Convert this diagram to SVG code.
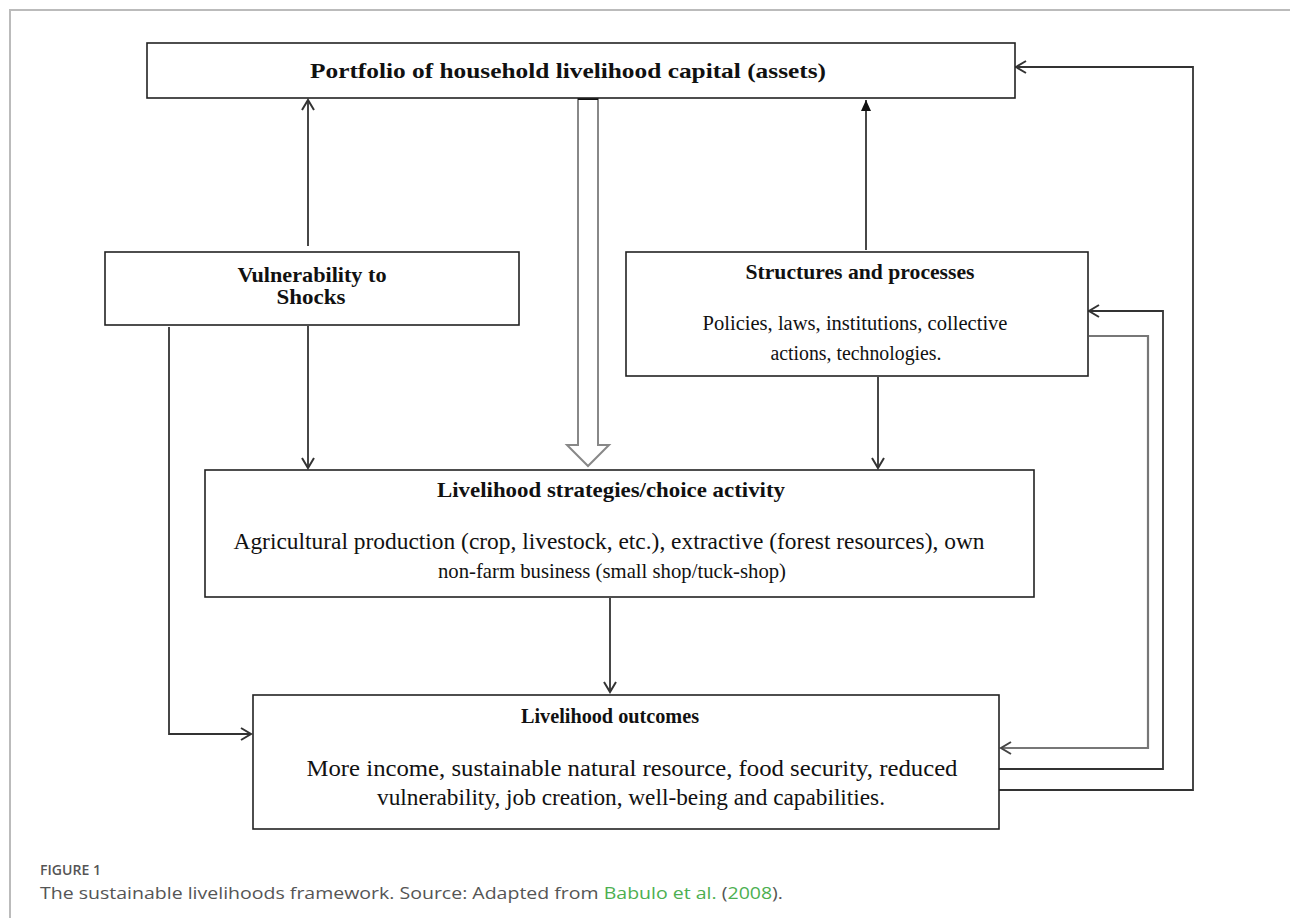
<svg xmlns="http://www.w3.org/2000/svg" width="1290" height="918" viewBox="0 0 1290 918">
<style>
.box{fill:#fff;stroke:#222;stroke-width:1.6}
.t{font-family:"Liberation Serif","Times New Roman",serif;fill:#111;text-anchor:middle}
.b{font-weight:bold;font-size:21px}
.n{font-size:22px}
.c{fill:none;stroke:#333;stroke-width:1.8}
.g{fill:none;stroke:#777;stroke-width:2.2}
.cap{font-family:"Open Sans",Lato,sans-serif;fill:#555}
</style>
<defs>
<marker id="open" markerUnits="userSpaceOnUse" markerWidth="16" markerHeight="16" refX="12" refY="8" orient="auto">
<path d="M2,2 L12,8 L2,14" fill="none" stroke="#333" stroke-width="2"/>
</marker>
<marker id="openg" markerUnits="userSpaceOnUse" markerWidth="16" markerHeight="16" refX="12" refY="8" orient="auto">
<path d="M2,2 L12,8 L2,14" fill="none" stroke="#444" stroke-width="2"/>
</marker>
<marker id="fill" markerUnits="userSpaceOnUse" markerWidth="16" markerHeight="16" refX="12" refY="8" orient="auto">
<path d="M1,3 L12,8 L1,13 Z" fill="#111"/>
</marker>
</defs>
<rect width="1290" height="918" fill="#fff"/>
<path d="M10,918 V10 H1290" fill="none" stroke="#bbb" stroke-width="2"/>

<g id="connectors">
<line class="c" x1="308" y1="246" x2="308" y2="100" marker-end="url(#open)"/>
<line class="c" x1="308" y1="326" x2="308" y2="468" marker-end="url(#open)"/>
<polyline class="c" points="169,327 169,734 251,734" marker-end="url(#open)"/>
<path d="M578,99 H598 V445 H609 L588,466 L567,445 H578 Z" fill="#fff" stroke="#888" stroke-width="2"/>
<line x1="578" y1="99" x2="598" y2="99" stroke="#111" stroke-width="2"/>
<line class="c" x1="866" y1="250" x2="866" y2="100" marker-end="url(#fill)"/>
<line class="c" x1="878" y1="377" x2="878" y2="468" marker-end="url(#open)"/>
<line class="c" x1="610" y1="598" x2="610" y2="692" marker-end="url(#open)"/>
<polyline class="c" points="999,790 1193,790 1193,67 1016,67" marker-end="url(#open)"/>
<polyline class="c" points="999,769 1163,769 1163,311 1089,311" marker-end="url(#open)"/>
<polyline class="g" points="1089,336 1148,336 1148,748 1001,748" marker-end="url(#openg)"/>
</g>

<g id="portfolio">
<rect class="box" x="147" y="43" width="868" height="55"/>
<text class="t b" x="568" y="78" font-size="22" textLength="516" lengthAdjust="spacingAndGlyphs">Portfolio of household livelihood capital (assets)</text>
</g>

<g id="vulnerability">
<rect class="box" x="105" y="252" width="414" height="73"/>
<text class="t b" x="312" y="282" font-size="19" textLength="149" lengthAdjust="spacingAndGlyphs">Vulnerability to</text>
<text class="t b" x="311" y="304" font-size="19" textLength="69" lengthAdjust="spacingAndGlyphs">Shocks</text>
</g>

<g id="structures">
<rect class="box" x="626" y="252" width="462" height="124"/>
<text class="t b" x="860" y="279" textLength="229" lengthAdjust="spacingAndGlyphs">Structures and processes</text>
<text class="t" x="855" y="330" font-size="20.5" textLength="305" lengthAdjust="spacingAndGlyphs">Policies, laws, institutions, collective</text>
<text class="t" x="856" y="360" font-size="20.5" textLength="171" lengthAdjust="spacingAndGlyphs">actions, technologies.</text>
</g>

<g id="strategies">
<rect class="box" x="205" y="470" width="829" height="127"/>
<text class="t b" x="611" y="497" font-size="22" textLength="348" lengthAdjust="spacingAndGlyphs">Livelihood strategies/choice activity</text>
<text class="t" x="609" y="549" font-size="22.5" textLength="751" lengthAdjust="spacingAndGlyphs">Agricultural production (crop, livestock, etc.), extractive (forest resources), own</text>
<text class="t" x="612" y="578" font-size="21.5" textLength="348" lengthAdjust="spacingAndGlyphs">non-farm business (small shop/tuck-shop)</text>
</g>

<g id="outcomes">
<rect class="box" x="253" y="695" width="746" height="134"/>
<text class="t b" x="610" y="723" font-size="20.5" textLength="178" lengthAdjust="spacingAndGlyphs">Livelihood outcomes</text>
<text class="t" x="632" y="776" font-size="23.5" textLength="651" lengthAdjust="spacingAndGlyphs">More income, sustainable natural resource, food security, reduced</text>
<text class="t" x="631" y="805" font-size="23.5" textLength="508" lengthAdjust="spacingAndGlyphs">vulnerability, job creation, well-being and capabilities.</text>
</g>

<g id="caption">
<text class="cap" x="40" y="875" font-size="13.5" font-weight="600" textLength="61" lengthAdjust="spacingAndGlyphs">FIGURE 1</text>
<text class="cap" x="40" y="899" font-size="16.5" textLength="743" lengthAdjust="spacingAndGlyphs">The sustainable livelihoods framework. Source: Adapted from <tspan fill="#4caf50">Babulo et al.</tspan> (<tspan fill="#4caf50">2008</tspan>).</text>
</g>
</svg>
